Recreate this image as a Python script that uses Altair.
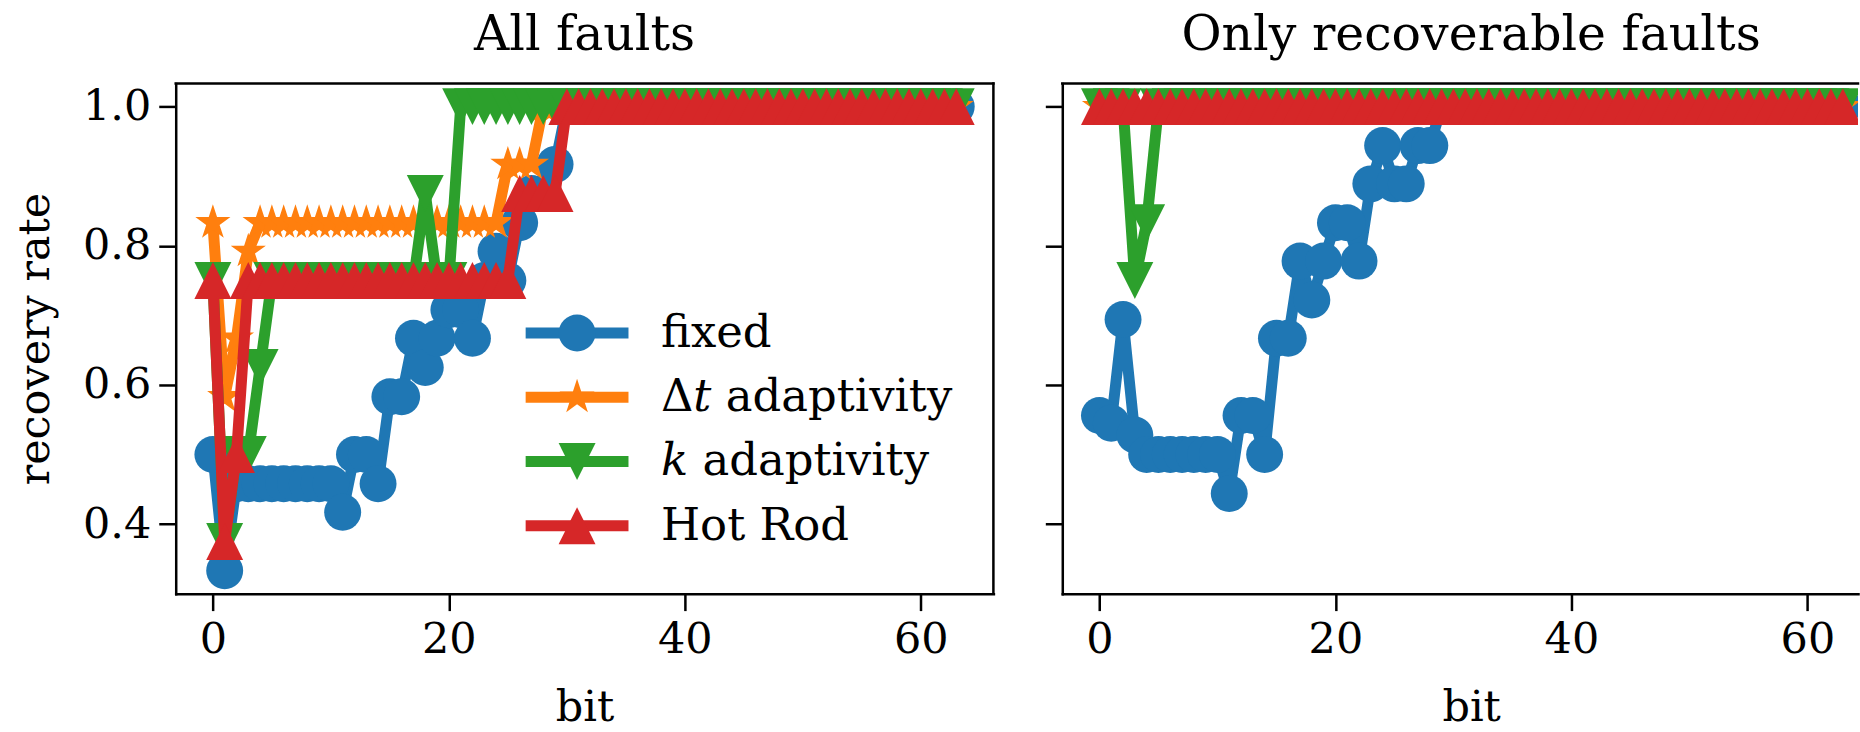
import math
import altair as alt
import pandas as pd

# ---------------- data ----------------
BITS = list(range(64))
SERIES = ["fixed", "Δ𝑡 adaptivity", "𝑘 adaptivity", "Hot Rod"]
COLORS = ["#1f77b4", "#ff7f0e", "#2ca02c", "#d62728"]
PANEL_TITLES = ["All faults", "Only recoverable faults"]
X_TICKS = [0, 20, 40, 60]
Y_TICKS = [0.4, 0.6, 0.8, 1.0]

ALL_FIXED = [0.5, 0.333, 0.458, 0.458, 0.458, 0.458, 0.458, 0.458,
             0.458, 0.458, 0.458, 0.417, 0.5, 0.5, 0.458, 0.583,
             0.583, 0.667, 0.625, 0.667, 0.708, 0.708, 0.667, 0.75,
             0.792, 0.75, 0.833, 0.875, 0.875, 0.917, 1.0, 1.0,
             1.0, 1.0, 1.0, 1.0, 1.0, 1.0, 1.0, 1.0,
             1.0, 1.0, 1.0, 1.0, 1.0, 1.0, 1.0, 1.0,
             1.0, 1.0, 1.0, 1.0, 1.0, 1.0, 1.0, 1.0,
             1.0, 1.0, 1.0, 1.0, 1.0, 1.0, 1.0, 1.0]
ALL_DT = [0.833, 0.583, 0.667, 0.792, 0.833, 0.833, 0.833, 0.833,
          0.833, 0.833, 0.833, 0.833, 0.833, 0.833, 0.833, 0.833,
          0.833, 0.833, 0.833, 0.833, 0.833, 0.833, 0.833, 0.833,
          0.833, 0.917, 0.917, 0.917, 1.0, 1.0, 1.0, 1.0,
          1.0, 1.0, 1.0, 1.0, 1.0, 1.0, 1.0, 1.0,
          1.0, 1.0, 1.0, 1.0, 1.0, 1.0, 1.0, 1.0,
          1.0, 1.0, 1.0, 1.0, 1.0, 1.0, 1.0, 1.0,
          1.0, 1.0, 1.0, 1.0, 1.0, 1.0, 1.0, 1.0]
ALL_K = [0.75, 0.375, 0.5, 0.5, 0.625, 0.75, 0.75, 0.75,
         0.75, 0.75, 0.75, 0.75, 0.75, 0.75, 0.75, 0.75,
         0.75, 0.75, 0.875, 0.75, 0.75, 1.0, 1.0, 1.0,
         1.0, 1.0, 1.0, 1.0, 1.0, 1.0, 1.0, 1.0,
         1.0, 1.0, 1.0, 1.0, 1.0, 1.0, 1.0, 1.0,
         1.0, 1.0, 1.0, 1.0, 1.0, 1.0, 1.0, 1.0,
         1.0, 1.0, 1.0, 1.0, 1.0, 1.0, 1.0, 1.0,
         1.0, 1.0, 1.0, 1.0, 1.0, 1.0, 1.0, 1.0]
ALL_HR = [0.75, 0.375, 0.5, 0.75, 0.75, 0.75, 0.75, 0.75,
          0.75, 0.75, 0.75, 0.75, 0.75, 0.75, 0.75, 0.75,
          0.75, 0.75, 0.75, 0.75, 0.75, 0.75, 0.75, 0.75,
          0.75, 0.75, 0.875, 0.875, 0.875, 0.875, 1.0, 1.0,
          1.0, 1.0, 1.0, 1.0, 1.0, 1.0, 1.0, 1.0,
          1.0, 1.0, 1.0, 1.0, 1.0, 1.0, 1.0, 1.0,
          1.0, 1.0, 1.0, 1.0, 1.0, 1.0, 1.0, 1.0,
          1.0, 1.0, 1.0, 1.0, 1.0, 1.0, 1.0, 1.0]

REC_FIXED = [0.556, 0.545, 0.694, 0.528, 0.5, 0.5, 0.5, 0.5,
             0.5, 0.5, 0.5, 0.444, 0.556, 0.556, 0.5, 0.667,
             0.667, 0.778, 0.722, 0.778, 0.833, 0.833, 0.778, 0.889,
             0.944, 0.889, 0.889, 0.944, 0.944, 1.0, 1.0, 1.0,
             1.0, 1.0, 1.0, 1.0, 1.0, 1.0, 1.0, 1.0,
             1.0, 1.0, 1.0, 1.0, 1.0, 1.0, 1.0, 1.0,
             1.0, 1.0, 1.0, 1.0, 1.0, 1.0, 1.0, 1.0,
             1.0, 1.0, 1.0, 1.0, 1.0, 1.0, 1.0, 1.0]
REC_DT = [1.0, 1.0, 1.0, 1.0, 1.0, 1.0, 1.0, 1.0,
          1.0, 1.0, 1.0, 1.0, 1.0, 1.0, 1.0, 1.0,
          1.0, 1.0, 1.0, 1.0, 1.0, 1.0, 1.0, 1.0,
          1.0, 1.0, 1.0, 1.0, 1.0, 1.0, 1.0, 1.0,
          1.0, 1.0, 1.0, 1.0, 1.0, 1.0, 1.0, 1.0,
          1.0, 1.0, 1.0, 1.0, 1.0, 1.0, 1.0, 1.0,
          1.0, 1.0, 1.0, 1.0, 1.0, 1.0, 1.0, 1.0,
          1.0, 1.0, 1.0, 1.0, 1.0, 1.0, 1.0, 1.0]
REC_K = [1.0, 1.0, 1.0, 0.75, 0.833, 1.0, 1.0, 1.0,
         1.0, 1.0, 1.0, 1.0, 1.0, 1.0, 1.0, 1.0,
         1.0, 1.0, 1.0, 1.0, 1.0, 1.0, 1.0, 1.0,
         1.0, 1.0, 1.0, 1.0, 1.0, 1.0, 1.0, 1.0,
         1.0, 1.0, 1.0, 1.0, 1.0, 1.0, 1.0, 1.0,
         1.0, 1.0, 1.0, 1.0, 1.0, 1.0, 1.0, 1.0,
         1.0, 1.0, 1.0, 1.0, 1.0, 1.0, 1.0, 1.0,
         1.0, 1.0, 1.0, 1.0, 1.0, 1.0, 1.0, 1.0]
REC_HR = [1.0, 1.0, 1.0, 1.0, 1.0, 1.0, 1.0, 1.0,
          1.0, 1.0, 1.0, 1.0, 1.0, 1.0, 1.0, 1.0,
          1.0, 1.0, 1.0, 1.0, 1.0, 1.0, 1.0, 1.0,
          1.0, 1.0, 1.0, 1.0, 1.0, 1.0, 1.0, 1.0,
          1.0, 1.0, 1.0, 1.0, 1.0, 1.0, 1.0, 1.0,
          1.0, 1.0, 1.0, 1.0, 1.0, 1.0, 1.0, 1.0,
          1.0, 1.0, 1.0, 1.0, 1.0, 1.0, 1.0, 1.0,
          1.0, 1.0, 1.0, 1.0, 1.0, 1.0, 1.0, 1.0]

PANEL_DATA = {
    "All faults": [ALL_FIXED, ALL_DT, ALL_K, ALL_HR],
    "Only recoverable faults": [REC_FIXED, REC_DT, REC_K, REC_HR],
}

# ---------------- style ----------------
FONT = "DejaVu Serif"
LABEL_SIZE = 43
LEGEND_SIZE = 45
TITLE_SIZE = 49
LW = 11
MS = 37  # marker width in px
PLOT_H = 511
LEFT_W = 819
RIGHT_W = 797
FULL_W = 819          # the right panel is cut by the figure edge
PX_PER_UNIT = LEFT_W / 69.3
X_MIN = -3.15
Y_DOMAIN = [0.3, 1.0333]
FRAME_W = 2.5


def star_path():
    pts = []
    for i in range(10):
        a = math.radians(90 + 36 * i)
        r = 1.0 if i % 2 == 0 else 0.381966
        pts.append((r * math.cos(a), -r * math.sin(a)))
    return "M" + "L".join(f"{x:.4f},{y:.4f}" for x, y in pts) + "Z"


SHAPES = ["circle", star_path(), "M0,1L-1,-1L1,-1Z", "M0,-1L-1,1L1,1Z"]

color_scale = alt.Scale(domain=SERIES, range=COLORS)
shape_scale = alt.Scale(domain=SERIES, range=SHAPES)

AXIS_STYLE = dict(
    labelFont=FONT, labelFontSize=LABEL_SIZE, labelColor="black",
    titleFont=FONT, titleFontSize=LABEL_SIZE, titleFontWeight="normal", titleColor="black",
    tickColor="black", tickWidth=FRAME_W, tickSize=17,
    domainColor="black", domainWidth=FRAME_W, domainCap="square",
    labelPadding=8, grid=False,
)


def make_df(title):
    rows = []
    for s, vals in zip(SERIES, PANEL_DATA[title]):
        for b, v in zip(BITS, vals):
            rows.append({"series": s, "bit": b, "rate": v})
    return pd.DataFrame(rows)


def panel(title, first):
    width = LEFT_W if first else RIGHT_W
    x_max = X_MIN + width / PX_PER_UNIT
    df = make_df(title)
    xscale = alt.Scale(domain=[X_MIN, x_max], nice=False, zero=False)
    yscale = alt.Scale(domain=Y_DOMAIN, nice=False, zero=False)
    if first:
        xaxis = alt.Axis(values=X_TICKS, format="d", title="bit", titlePadding=25, **AXIS_STYLE)
        yaxis = alt.Axis(values=Y_TICKS, format=".1f", title="recovery rate", titlePadding=25,
                         **AXIS_STYLE)
    else:
        xaxis = alt.Axis(values=X_TICKS, format="d", title="bit", titlePadding=25,
                         titleX=FULL_W / 2, **AXIS_STYLE)
        yaxis = alt.Axis(values=Y_TICKS, labels=False, title=None, **AXIS_STYLE)

    data_layers = []
    for s in SERIES:
        sd = df[df.series == s]
        enc = dict(
            x=alt.X("bit:Q", scale=xscale, axis=xaxis),
            y=alt.Y("rate:Q", scale=yscale, axis=yaxis),
            color=alt.Color("series:N", scale=color_scale, legend=None),
        )
        data_layers.append(
            alt.Chart(sd).mark_line(strokeWidth=LW, clip=True, strokeJoin="round",
                                    strokeCap="square").encode(**enc)
        )
        data_layers.append(
            alt.Chart(sd).mark_point(filled=True, opacity=1, size=MS * MS, clip=True,
                                     strokeWidth=0).encode(
                **enc, shape=alt.Shape("series:N", scale=shape_scale, legend=None))
        )

    frame_df = pd.DataFrame({"k": [0]})
    frame = [
        alt.Chart(frame_df).mark_rule(color="black", strokeWidth=FRAME_W, strokeCap="square").encode(
            x=alt.value(0), x2=alt.value(width), y=alt.value(0))
    ]
    if first:
        frame.append(
            alt.Chart(frame_df).mark_rule(color="black", strokeWidth=FRAME_W, strokeCap="square").encode(
                x=alt.value(width), y=alt.value(0), y2=alt.value(PLOT_H))
        )

    chart = alt.layer(*data_layers, *frame)

    if first:
        leg_df = pd.DataFrame({"series": SERIES})
        ly = alt.Y("series:N", scale=alt.Scale(type="point", domain=SERIES, range=[250, 443], padding=0),
                   axis=None)
        lc = alt.Color("series:N", scale=color_scale, legend=None)
        leg = alt.layer(
            alt.Chart(leg_df).mark_rule(strokeWidth=LW, strokeCap="square").encode(
                x=alt.value(356), x2=alt.value(448), y=ly, color=lc),
            alt.Chart(leg_df).mark_point(filled=True, opacity=1, size=MS * MS, strokeWidth=0).encode(
                x=alt.value(402), y=ly, color=lc,
                shape=alt.Shape("series:N", scale=shape_scale, legend=None)),
            alt.Chart(leg_df).mark_text(align="left", baseline="middle", font=FONT,
                                        fontSize=LEGEND_SIZE, color="black").encode(
                x=alt.value(486), y=ly, text="series:N"),
        )
        chart = alt.layer(chart, leg).resolve_scale(y="independent")

    title_dx = 0 if first else (FULL_W - RIGHT_W) / 2
    return chart.properties(
        width=width, height=PLOT_H,
        title=alt.TitleParams(title, font=FONT, fontSize=TITLE_SIZE, fontWeight="normal",
                              anchor="middle", offset=22, color="black", dx=title_dx),
    )


left = panel(PANEL_TITLES[0], True)
right = panel(PANEL_TITLES[1], False)

chart = alt.hconcat(left, right, spacing=48).properties(
    padding={"left": 14, "top": 10, "right": 0, "bottom": 0},
    background="white",
).configure_view(strokeWidth=0)

chart.save("out.html", embed_options={"renderer": "svg", "actions": False})
